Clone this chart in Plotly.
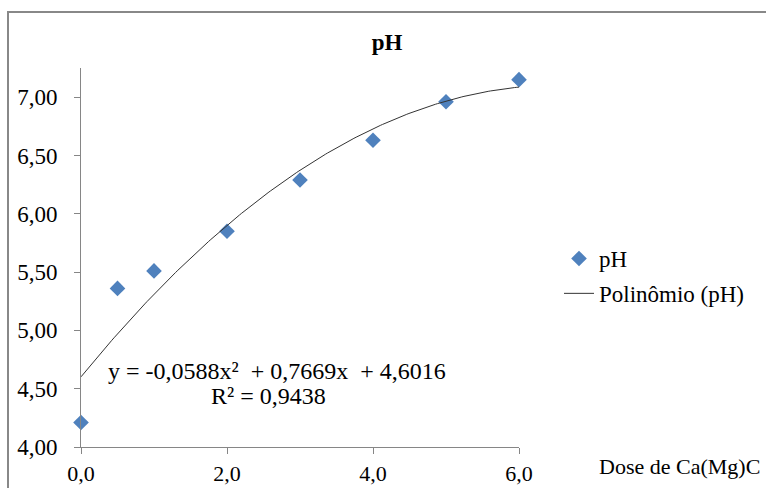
import numpy as np
import plotly.graph_objects as go

# Data
dose = [0.0, 0.5, 1.0, 2.0, 3.0, 4.0, 5.0, 6.0]
ph = [4.21, 5.36, 5.51, 5.85, 6.29, 6.63, 6.96, 7.15]
# trendline coefficients as displayed (a*x^2 + b*x + c)
poly_coef = [-0.0588, 0.7669, 4.6016]
y_ticks = [4.0, 4.5, 5.0, 5.5, 6.0, 6.5, 7.0]
x_ticks = [0.0, 2.0, 4.0, 6.0]
eq_text = "y = -0,0588x²  + 0,7669x  + 4,6016"
r2_text = "R² = 0,9438"
title_text = "<b>pH</b>"
xlabel_text = "Dose de Ca(Mg)C"

W, H = 766, 488
# plot area in page pixels
PL, PR, PT, PB = 81, 519, 68, 447
L, T = PL, PT
pw, ph_ = PR - PL, PB - PT
R = W - L - pw
B = H - T - ph_

def px(x):
    return (x - PL) / pw

def py(y):
    return (PB - y) / ph_

xs = np.linspace(min(dose), max(dose), 200)
ys = np.polyval(poly_coef, xs)

serif = "Liberation Serif"
axis_gray = "#868686"

fig = go.Figure()
fig.add_trace(go.Scatter(
    x=dose, y=ph, mode="markers", name="pH",
    marker=dict(symbol="diamond", size=12, color="#4F81BD"),
    legendgroup="a", cliponaxis=False,
))
fig.add_trace(go.Scatter(
    x=xs, y=ys, mode="lines", name="Polinômio (pH)",
    line=dict(color="#333333", width=1),
    legendgroup="b",
))

fig.update_layout(
    template="none",
    width=W, height=H,
    margin=dict(l=L, r=R, t=T, b=B, pad=0, autoexpand=False),
    paper_bgcolor="white", plot_bgcolor="white",
    separators=",.",
    font=dict(family=serif, size=23, color="black"),
    title=dict(text=title_text, x=387 / W, xanchor="center",
               y=1 - 42 / H, yanchor="middle",
               font=dict(family=serif, size=23, color="black")),
    showlegend=True,
    legend=dict(x=px(559), xanchor="left", y=py(237), yanchor="top",
                bgcolor="rgba(0,0,0,0)", itemwidth=30, tracegroupgap=2,
                traceorder="grouped", borderwidth=0,
                font=dict(family=serif, size=23, color="black")),
    xaxis=dict(range=[0, 6], tickvals=x_ticks, tickformat=".1f",
               showgrid=False, zeroline=False, showline=True, automargin=False,
               linecolor=axis_gray, linewidth=1, ticks="outside",
               ticklen=6, tickcolor=axis_gray, ticklabelstandoff=1,
               tickfont=dict(family=serif, size=22, color="black")),
    yaxis=dict(range=[4, 7.25], tickvals=y_ticks, tickformat=".2f",
               showgrid=False, zeroline=False, showline=True, automargin=False,
               linecolor=axis_gray, linewidth=1, ticks="outside",
               ticklen=6, tickcolor=axis_gray, ticklabelstandoff=12,
               tickfont=dict(family=serif, size=23, color="black")),
)

fig.add_shape(type="rect", xref="paper", yref="paper",
              x0=px(8), x1=px(800), y0=py(520), y1=py(12),
              line=dict(color="#888888", width=2), fillcolor="rgba(0,0,0,0)",
              layer="below")

fig.add_annotation(text=eq_text, xref="paper", yref="paper",
                   x=px(277), y=py(371), xanchor="center", yanchor="middle",
                   showarrow=False, font=dict(family=serif, size=24, color="black"))
fig.add_annotation(text=r2_text, xref="paper", yref="paper",
                   x=px(268), y=py(396), xanchor="center", yanchor="middle",
                   showarrow=False, font=dict(family=serif, size=24, color="black"))
fig.add_annotation(text=xlabel_text, xref="paper", yref="paper",
                   x=px(597), y=py(466), xanchor="left", yanchor="middle",
                   showarrow=False, font=dict(family=serif, size=22, color="black"))

fig.write_html(
    "out.html",
    config={"displayModeBar": False},
    post_script="document.body.style.margin='0';document.body.style.overflow='hidden';",
)
